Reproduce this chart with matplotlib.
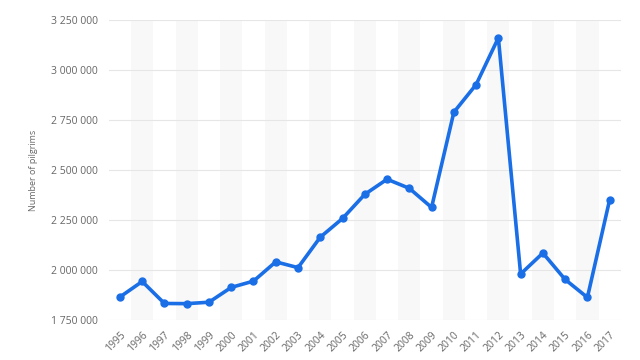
import matplotlib.pyplot as plt
import numpy as np

plt.rcParams['font.family'] = ['Open Sans', 'DejaVu Sans']

years = ['1995', '1996', '1997', '1998', '1999', '2000', '2001', '2002', '2003', '2004',
         '2005', '2006', '2007', '2008', '2009', '2010', '2011', '2012', '2013', '2014',
         '2015', '2016', '2017']
pilgrims = [1865234, 1942851, 1832887, 1831998, 1839154, 1913263, 1944760, 2041129,
            2012074, 2164469, 2258050, 2378636, 2454325, 2408849, 2313278, 2789399,
            2927717, 3161573, 1980249, 2085238, 1952817, 1862909, 2352122]
yticks = [1750000, 2000000, 2250000, 2500000, 2750000, 3000000, 3250000]

fig = plt.figure(figsize=(6.4, 3.6), dpi=100)
ax = fig.add_axes([0.170, 0.111, 0.800, 0.833])

x = np.arange(len(years))
for i in x:
    if i % 2 == 1:
        ax.axvspan(i - 0.5, i + 0.5, color='#f8f8f8', zorder=0, lw=0)

for t in yticks:
    ax.axhline(t, color='#e6e6e6', lw=0.8, zorder=1)

ax.plot(x, pilgrims, color='#1a6ee6', lw=2.6, marker='o', ms=5, zorder=3,
        solid_joinstyle='round', solid_capstyle='round')

ax.set_xlim(-0.5, len(years) - 0.5)
ax.set_ylim(1750000, 3250000)
ax.set_yticks(yticks)
ax.set_yticklabels(['{:,}'.format(t).replace(',', ' ') for t in yticks],
                   fontsize=7.5, color='#666666')
ax.set_xticks(x)
ax.set_xticklabels(years, rotation=45, ha='right', rotation_mode='anchor',
                   fontsize=7.5, color='#666666')
ax.tick_params(length=0, pad=8)
ax.tick_params(axis='x', pad=7)
for s in ax.spines.values():
    s.set_visible(False)

fig.text(0.052, 0.527, 'Number of pilgrims', rotation=90, ha='center', va='center',
         fontsize=6.5, color='#666666')

fig.savefig('out.png', dpi=100)
